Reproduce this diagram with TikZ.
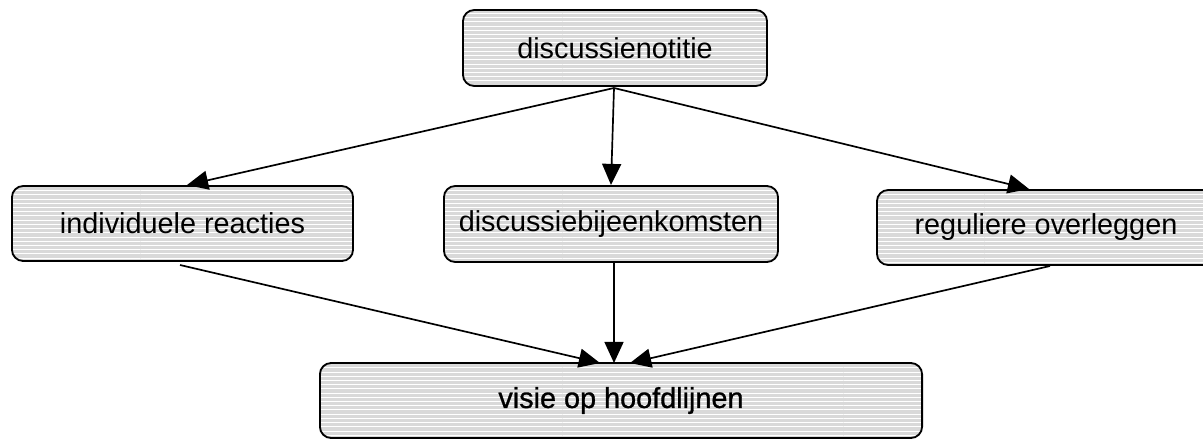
\documentclass[tikz,border=0pt]{standalone}
\usepackage{fontspec}
\setmainfont{Liberation Sans}
\usetikzlibrary{arrows.meta,patterns}

\begin{document}
\begin{tikzpicture}[x=0.025cm,y=-0.025cm,
    blok/.style={
      rectangle,
      rounded corners=8pt,
      draw,
      line width=1.3pt,
      preaction={fill=gray!30},
      pattern=horizontal lines,
      pattern color=white,
      inner sep=0pt,
      font=\fontsize{20.5}{24}\selectfont},
    pijl/.style={
      -{Triangle[length=15pt,width=13.5pt]},
      line width=1.2pt}
    ]

  \clip (0,0) rectangle (1203,440);

  \node at (615,48) (blok0) [blok, minimum width=7.6cm, minimum height=1.9cm] {discussienotitie};

  \node at (182.5,223.5) (blok1) [blok, minimum width=8.525cm, minimum height=1.875cm] {individuele reacties};
  \node at (611,224) (blok2) [blok, minimum width=8.35cm, minimum height=1.9cm] {discussiebijeenkomsten};
  \node at (1046,227.5) (blok3) [blok, minimum width=8.45cm, minimum height=1.875cm] {reguliere overleggen};

  \node at (621,400.5) (blok4) [blok, minimum width=15.05cm, minimum height=1.875cm,
        font=\fontsize{20.5}{24}\selectfont\addfontfeature{FakeBold=1}] {visie op hoofdlijnen};

  % aansluitpunten op de randen
  \coordinate (blok0-uit) at (614,88);
  \coordinate (blok1-in) at (187,185);
  \coordinate (blok2-in) at (611,185);
  \coordinate (blok3-in) at (1029,189);
  \coordinate (blok1-uit) at (180,265);
  \coordinate (blok2-uit) at (614,263);
  \coordinate (blok3-uit) at (1050,266);
  \coordinate (blok4-links) at (600,363);
  \coordinate (blok4-midden) at (614,363);
  \coordinate (blok4-rechts) at (630,363);

  \path[pijl]
        (blok0-uit) edge (blok1-in)
        (blok0-uit) edge (blok2-in)
        (blok0-uit) edge (blok3-in)

        (blok1-uit) edge (blok4-links)
        (blok2-uit) edge (blok4-midden)
        (blok3-uit) edge (blok4-rechts)
   ;

\end{tikzpicture}
\end{document}
